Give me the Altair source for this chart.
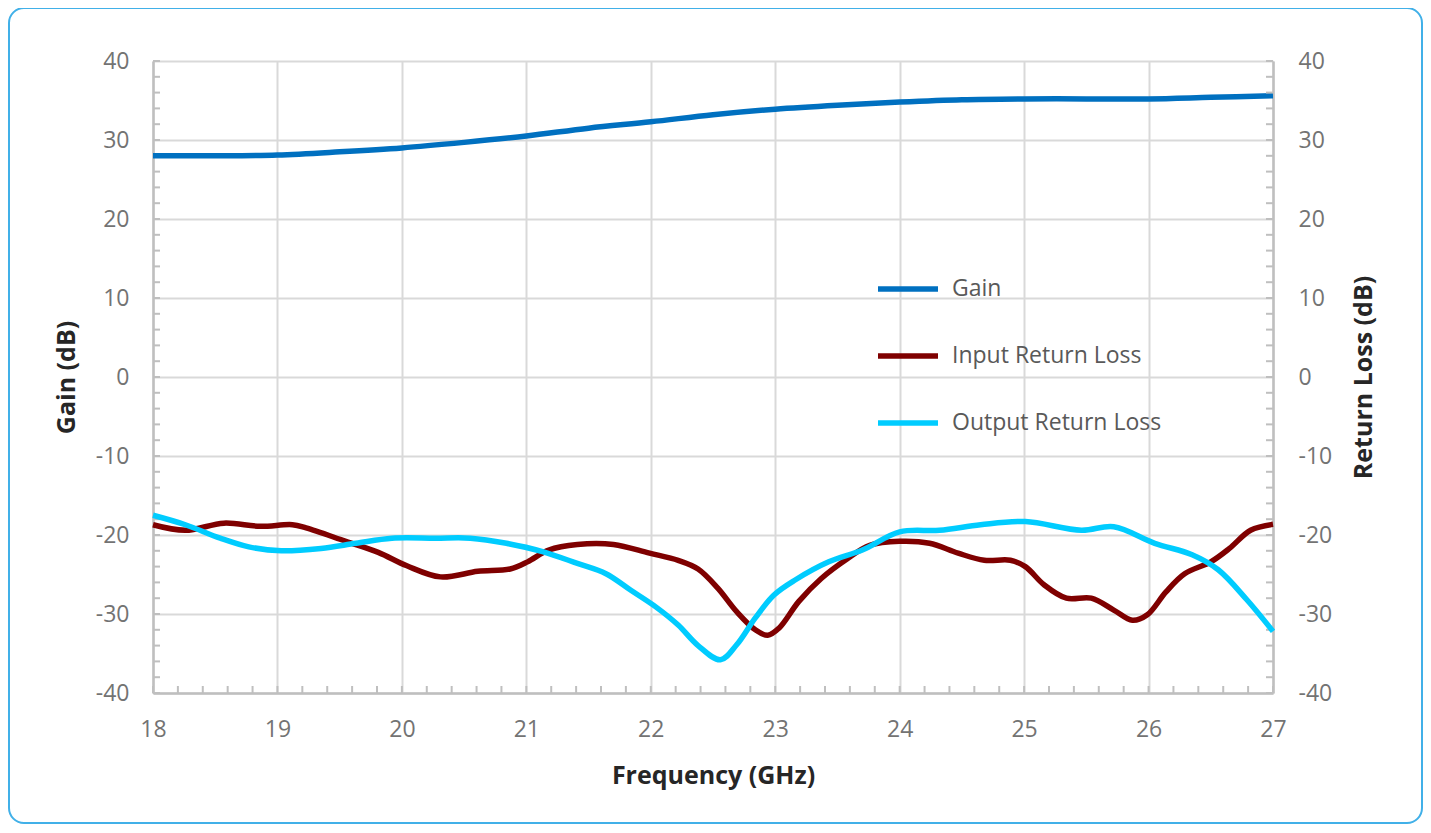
import altair as alt
import pandas as pd

# ---- data ----
gain_freq = [18, 18.5, 19, 19.5, 20, 20.5, 21, 21.5, 22, 22.5, 23, 23.5, 24, 24.5, 25, 25.5, 26, 26.5, 27]
gain_db = [28.0, 28.0, 28.1, 28.5, 29.0, 29.7, 30.5, 31.5, 32.3, 33.2, 33.9, 34.4, 34.8, 35.1, 35.2, 35.2, 35.2, 35.4, 35.6]

irl_freq = [18, 18.26, 18.57, 18.86, 19.12, 19.23, 19.55, 19.81, 20.04, 20.31, 20.61, 20.87, 21.01, 21.18,
            21.41, 21.70, 21.99, 22.22, 22.38, 22.54, 22.69, 22.84, 22.94, 23.03, 23.19, 23.37, 23.58,
            23.76, 24.0, 24.24, 24.47, 24.68, 24.89, 25.01, 25.16, 25.34, 25.54, 25.72, 25.87, 25.99,
            26.14, 26.29, 26.50, 26.65, 26.82, 27.0]
irl_db = [-18.7, -19.4, -18.5, -18.9, -18.7, -19.1, -20.8, -22.2, -23.9, -25.3, -24.6, -24.3, -23.4, -21.9,
          -21.2, -21.2, -22.3, -23.2, -24.3, -26.75, -29.7, -32.0, -32.7, -31.8, -28.4, -25.5, -23.0,
          -21.3, -20.8, -21.05, -22.3, -23.2, -23.2, -24.0, -26.3, -28.0, -28.0, -29.5, -30.8, -30.1,
          -27.2, -24.9, -23.4, -21.7, -19.4, -18.65]

orl_freq = [18, 18.26, 18.54, 18.77, 19.03, 19.35, 19.63, 19.92, 20.27, 20.55, 20.84, 21.13, 21.41, 21.64,
            21.84, 22.04, 22.22, 22.38, 22.56, 22.69, 22.84, 22.99, 23.16, 23.43, 23.70, 24.0, 24.32,
            24.65, 25.01, 25.46, 25.72, 26.05, 26.35, 26.56, 26.79, 27.0]
orl_db = [-17.5, -18.7, -20.4, -21.5, -22.0, -21.7, -21.05, -20.4, -20.4, -20.4, -21.05, -22.1, -23.6, -24.9,
          -27.0, -29.1, -31.4, -34.0, -35.8, -33.9, -30.5, -27.6, -25.7, -23.4, -21.9, -19.6, -19.4,
          -18.7, -18.3, -19.4, -18.95, -21.05, -22.5, -24.4, -28.2, -32.2]

series_names = ["Gain", "Input Return Loss", "Output Return Loss"]
series_colors = ["#0070C0", "#7F0000", "#00CCFF"]

x_major = list(range(18, 28))
y_major = list(range(-40, 41, 10))
x_minor = [round(18 + 0.2 * i, 1) for i in range(46)]
y_minor = list(range(-40, 41, 2))

# ---- tables ----
gain_df = pd.DataFrame({"f": gain_freq, "v": gain_db, "series": series_names[0]})
rl_df = pd.concat([
    pd.DataFrame({"f": irl_freq, "v": irl_db, "series": series_names[1]}),
    pd.DataFrame({"f": orl_freq, "v": orl_db, "series": series_names[2]}),
])

W, H = 1120, 632
AXIS_GRAY = "#BFBFBF"
GRID_GRAY = "#D9D9D9"
LABEL_GRAY = "#737373"
TITLE_DARK = "#262626"
FONT = "Open Sans"

xscale = alt.Scale(domain=[18, 27], nice=False, zero=False)
yscale = alt.Scale(domain=[-40, 40], nice=False, zero=False)
cscale = alt.Scale(domain=series_names, range=series_colors)

legend = alt.Legend(
    title=None, orient="none", legendX=722, legendY=195,
    symbolType="stroke", symbolSize=3600, symbolStrokeWidth=5.5,
    labelFontSize=23, labelColor="#595959", labelOffset=11, rowPadding=22, padding=0,
    labelFont=FONT, labelLimit=500,
)

common = dict(
    labelFontSize=23, labelColor=LABEL_GRAY, labelFont=FONT,
    titleFontSize=25, titleFontWeight="bold", titleColor=TITLE_DARK, titleFont=FONT,
    domainColor=AXIS_GRAY, domainWidth=2.5, ticks=False,
    labelExpr="toString(datum.value)",
)

x_axis = alt.Axis(
    values=x_major, title="Frequency (GHz)", grid=True, gridColor=GRID_GRAY, gridWidth=2,
    labelPadding=25, labelFlush=False,
    titleX=W / 2, titleY=90, titleBaseline="alphabetic", titleAlign="center",
    **common,
)

left_axis = alt.Axis(
    values=y_major, title="Gain (dB)", grid=True, gridColor=GRID_GRAY, gridWidth=2,
    labelPadding=24, labelFlush=False,
    titleAngle=-90, titleX=-79, titleY=H / 2, titleBaseline="alphabetic", titleAlign="center",
    **common,
)

right_axis = alt.Axis(
    values=y_major, title="Return Loss (dB)", orient="right", grid=False,
    labelPadding=25, labelFlush=False,
    titleAngle=-90, titleX=98, titleY=H / 2, titleBaseline="alphabetic", titleAlign="center",
    **common,
)

border = alt.Chart(pd.DataFrame({"a": [0]})).mark_rect(
    fillOpacity=0, stroke="#41B0E8", strokeWidth=2, cornerRadius=15
).encode(x=alt.value(-144), x2=alt.value(1269), y=alt.value(-53), y2=alt.value(762))

gain_line = alt.Chart(gain_df).mark_line(interpolate="catmull-rom", strokeWidth=5.5).encode(
    x=alt.X("f:Q", scale=xscale, axis=x_axis),
    y=alt.Y("v:Q", scale=yscale, axis=left_axis),
    color=alt.Color("series:N", scale=cscale, legend=legend),
)

left_ticks = alt.Chart(pd.DataFrame({"v": y_minor})).mark_rule(color=AXIS_GRAY, strokeWidth=2).encode(
    y=alt.Y("v:Q", scale=yscale, axis=left_axis), x=alt.value(0), x2=alt.value(7)
)
bottom_ticks = alt.Chart(pd.DataFrame({"f": x_minor})).mark_rule(color=AXIS_GRAY, strokeWidth=2).encode(
    x=alt.X("f:Q", scale=xscale, axis=x_axis), y=alt.value(H), y2=alt.value(H - 7)
)

left_group = alt.layer(border, left_ticks, bottom_ticks, gain_line)

rl_lines = alt.Chart(rl_df).mark_line(interpolate="catmull-rom", strokeWidth=5.5).encode(
    x=alt.X("f:Q", scale=xscale, axis=x_axis),
    y=alt.Y("v:Q", scale=yscale, axis=right_axis),
    color=alt.Color("series:N", scale=cscale, legend=legend),
    detail="series:N",
)
right_ticks = alt.Chart(pd.DataFrame({"v": y_minor})).mark_rule(color=AXIS_GRAY, strokeWidth=2).encode(
    y=alt.Y("v:Q", scale=yscale, axis=right_axis), x=alt.value(W), x2=alt.value(W - 7)
)
right_group = alt.layer(right_ticks, rl_lines)

chart = alt.layer(left_group, right_group).resolve_scale(y="independent").properties(
    width=W, height=H,
    autosize=alt.AutoSizeParams(type="none"),
    padding={"left": 145, "top": 53, "right": 150, "bottom": 132},
).configure_view(stroke=None).configure(font=FONT)

chart.save("out.html", embed_options={"renderer": "svg", "actions": False})
